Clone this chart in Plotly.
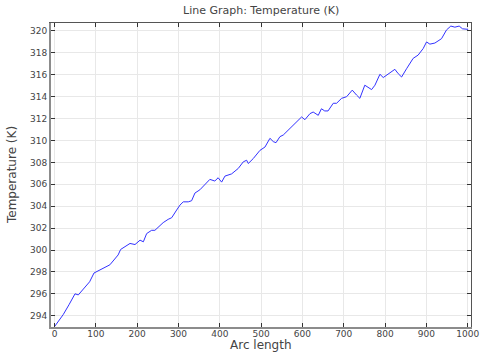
import plotly.graph_objects as go

# Arc length vs temperature
arc_length = [0, 21, 35, 49.6, 57.6, 73.8, 85, 95.6, 110, 134, 154, 160, 182.7, 194.8, 207,
              215, 223, 235, 243, 251, 263, 275, 283.6, 295.6, 303.6, 311.6, 323.7, 331.8,
              339.8, 351.9, 364, 376, 388, 396, 404.5, 412.5, 428.6, 444.7, 456.8, 465, 469,
              481, 497.2, 509.3, 521.4, 529.5, 536, 545.6, 553.6, 565.7, 577.8, 589.9, 598,
              606, 618.2, 626, 638.3, 646, 654, 662, 674.6, 682.7, 694.8, 707, 720.6, 731,
              739, 751, 767.4, 775.5, 787.6, 795.6, 811.7, 823.8, 831.9, 840, 852, 868, 880,
              892.3, 900.4, 908.5, 920.6, 936.7, 948.8, 959.2, 969, 979.4, 987.5, 997.2, 1001]
temperature = [293.0, 294.1, 295.0, 296.0, 295.9, 296.6, 297.1, 297.9, 298.2, 298.65, 299.55,
               300.05, 300.6, 300.5, 300.9, 300.75, 301.5, 301.8, 301.8, 302.1, 302.5, 302.8,
               302.95, 303.65, 304.1, 304.4, 304.4, 304.5, 305.2, 305.5, 305.95, 306.45,
               306.3, 306.6, 306.2, 306.75, 306.95, 307.45, 308.05, 308.2, 307.9, 308.35,
               309.1, 309.4, 310.2, 309.9, 309.8, 310.35, 310.5, 310.95, 311.4, 311.85,
               312.15, 311.9, 312.45, 312.6, 312.3, 312.9, 312.7, 312.7, 313.4, 313.4,
               313.85, 314.0, 314.6, 314.15, 313.85, 315.05, 314.65, 315.05, 316.05, 315.75,
               316.2, 316.5, 316.1, 315.8, 316.55, 317.5, 317.8, 318.4, 319.0, 318.8, 318.9,
               319.3, 320.1, 320.45, 320.35, 320.45, 320.2, 320.15, 320.15]

x_ticks = list(range(0, 1001, 100))
y_ticks = list(range(294, 321, 2))
x_range = [-8.5, 1008]
y_range = [292.97, 320.73]

fig = go.Figure()

fig.add_trace(go.Scatter(
    x=arc_length,
    y=temperature,
    mode="lines",
    line=dict(color="rgb(50,50,255)", width=1),
    showlegend=False,
))

# invisible trace to activate the mirror axes (top/right frame)
fig.add_trace(go.Scatter(x=[None], y=[None], xaxis="x2", yaxis="y2",
                         showlegend=False, hoverinfo="skip"))

text_color = "#444444"
tick_font = dict(family="DejaVu Sans", size=9, color=text_color)

fig.update_layout(
    width=480,
    height=352,
    paper_bgcolor="white",
    plot_bgcolor="white",
    font=dict(family="DejaVu Sans", color=text_color),
    margin=dict(l=51, r=9, t=23, b=25),
    xaxis=dict(
        range=x_range,
        tickvals=x_ticks,
        ticks="inside",
        ticklen=4,
        tickcolor="#333333",
        tickfont=tick_font,
        ticklabelstandoff=-3,
        showline=True,
        linecolor="#8c8c8c",
        linewidth=2,
        showgrid=True,
        gridcolor="#e8e8e8",
        zeroline=False,
        automargin=False,
    ),
    yaxis=dict(
        range=y_range,
        tickvals=y_ticks,
        ticks="inside",
        ticklen=4,
        tickcolor="#333333",
        tickfont=tick_font,
        showline=True,
        linecolor="#8c8c8c",
        linewidth=2,
        showgrid=True,
        gridcolor="#e8e8e8",
        zeroline=False,
        automargin=False,
    ),
    xaxis2=dict(
        range=x_range, tickvals=x_ticks, overlaying="x", side="top",
        ticks="inside", ticklen=4, tickcolor="#333333", showticklabels=False,
        showline=True, linecolor="#555555", linewidth=1, showgrid=False, zeroline=False,
        automargin=False,
    ),
    yaxis2=dict(
        range=y_range, tickvals=y_ticks, overlaying="y", side="right",
        ticks="inside", ticklen=4, tickcolor="#333333", showticklabels=False,
        showline=True, linecolor="#555555", linewidth=1, showgrid=False, zeroline=False,
        automargin=False,
    ),
    annotations=[
        dict(text="Line Graph: Temperature (K)", xref="paper", yref="paper",
             x=0.5, y=1, yshift=13, showarrow=False, yanchor="middle",
             font=dict(size=11, color=text_color)),
        dict(text="Arc length", xref="paper", yref="paper",
             x=0.5, y=0, yshift=-18, showarrow=False, yanchor="middle",
             font=dict(size=12, color=text_color)),
        dict(text="Temperature (K)", xref="paper", yref="paper",
             x=0, y=0.5, xshift=-39, showarrow=False, xanchor="center",
             textangle=-90, font=dict(size=12, color=text_color)),
    ],
)

# drop the default page margin so the figure sits at the window's corner
fig.write_html("out.html", config={"displayModeBar": False},
               post_script="document.body.style.margin='0';")
